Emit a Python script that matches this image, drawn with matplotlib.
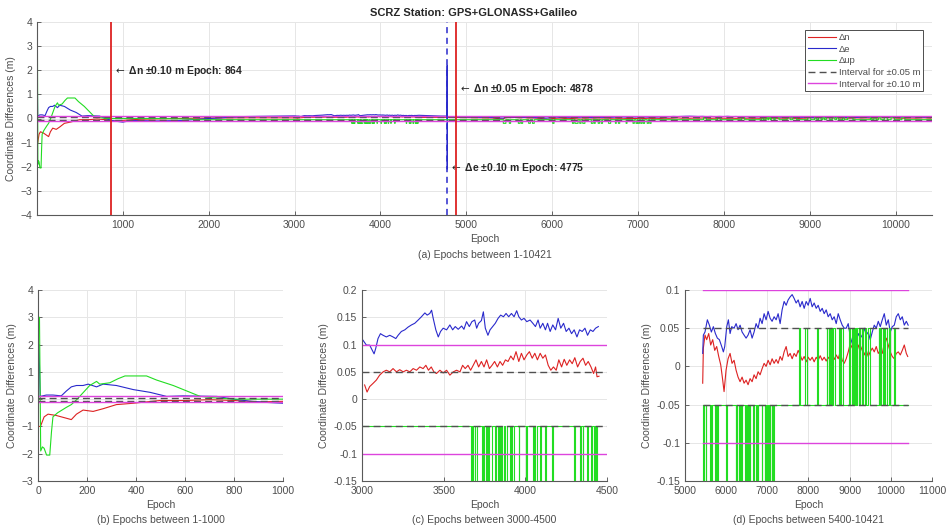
import numpy as np
import matplotlib
matplotlib.use('Agg')
import matplotlib.pyplot as plt

plt.rcParams['font.family'] = ['Liberation Sans', 'DejaVu Sans']

# ---- data ----
# panel (b) region, epochs 1-1000
n_ep_b = [5, 10, 25, 41, 75, 116, 136, 157, 184, 225, 266, 320, 389, 443, 498, 600, 700, 800, 900, 1000]
n_b = [-1.0, -1.0, -0.65, -0.55, -0.6, -0.7, -0.75, -0.55, -0.4, -0.45, -0.35, -0.2, -0.15, -0.1, -0.05,
       -0.05, -0.02, -0.05, -0.1, -0.08]
e_ep_b = [4, 9, 34, 61, 95, 116, 136, 157, 184, 205, 239, 266, 320, 389, 457, 525, 593, 730, 798, 870, 934, 1000]
e_b = [2.0, 0.1, 0.15, 0.15, 0.12, 0.3, 0.45, 0.5, 0.5, 0.55, 0.45, 0.55, 0.5, 0.35, 0.25, 0.1, 0.12, 0.1,
       0.0, -0.08, -0.12, -0.15]
up_ep_b = [3, 6, 11, 18, 25, 35, 48, 55, 61, 80, 116, 136, 160, 211, 239, 252, 293, 327, 355, 443, 484,
           552, 607, 662, 716, 798, 1000]
up_b = [3.0, 3.0, -1.9, -1.75, -1.8, -2.05, -2.05, -1.2, -0.65, -0.5, -0.3, -0.2, 0.0, 0.5, 0.65, 0.55,
        0.6, 0.75, 0.85, 0.85, 0.7, 0.5, 0.3, 0.1, 0.05, 0.0, 0.0]

# panel (c) region, epochs 3000-4500
n_ep_c = [3016, 3031, 3047, 3068, 3088, 3108, 3129, 3149, 3170, 3190,
          3211, 3231, 3252, 3272, 3293, 3313, 3334, 3354, 3374, 3391,
          3407, 3424, 3440, 3456, 3477, 3497, 3518, 3538, 3559, 3579,
          3600, 3616, 3632, 3649, 3665, 3681, 3698, 3714, 3731, 3747,
          3763, 3780, 3796, 3812, 3829, 3845, 3861, 3878, 3894, 3911,
          3927, 3943, 3960, 3976, 3992, 4009, 4025, 4042, 4058, 4074,
          4091, 4107, 4123, 4140, 4156, 4172, 4189, 4205, 4222, 4238,
          4254, 4271, 4287, 4303, 4320, 4336, 4353, 4369, 4385, 4402,
          4418, 4430, 4439, 4451]
n_c = [0.026, 0.013, 0.023, 0.029, 0.035, 0.044, 0.050, 0.053, 0.050, 0.056,
       0.050, 0.054, 0.050, 0.053, 0.050, 0.056, 0.053, 0.059, 0.056, 0.062,
       0.053, 0.059, 0.050, 0.047, 0.053, 0.048, 0.053, 0.044, 0.050, 0.053,
       0.050, 0.062, 0.056, 0.062, 0.053, 0.062, 0.072, 0.059, 0.069, 0.059,
       0.072, 0.056, 0.062, 0.069, 0.059, 0.069, 0.062, 0.072, 0.069, 0.079,
       0.072, 0.087, 0.069, 0.084, 0.072, 0.081, 0.087, 0.075, 0.084, 0.072,
       0.084, 0.075, 0.081, 0.062, 0.053, 0.059, 0.053, 0.072, 0.059, 0.073,
       0.062, 0.072, 0.065, 0.076, 0.059, 0.069, 0.075, 0.062, 0.069, 0.059,
       0.047, 0.059, 0.041, 0.042]
e_ep_c = [3006, 3027, 3047, 3057, 3074, 3084, 3098, 3113, 3129, 3149,
          3170, 3190, 3207, 3221, 3241, 3262, 3282, 3303, 3323, 3344,
          3364, 3385, 3399, 3415, 3426, 3436, 3452, 3467, 3481, 3497,
          3518, 3538, 3555, 3571, 3589, 3610, 3624, 3640, 3657, 3673,
          3690, 3702, 3714, 3731, 3743, 3755, 3771, 3784, 3800, 3816,
          3833, 3849, 3866, 3882, 3898, 3915, 3931, 3947, 3960, 3976,
          3992, 4009, 4029, 4046, 4062, 4078, 4091, 4107, 4123, 4136,
          4152, 4168, 4185, 4201, 4217, 4234, 4250, 4267, 4283, 4299,
          4316, 4332, 4348, 4365, 4381, 4398, 4414, 4430, 4447]
e_c = [0.108, 0.099, 0.099, 0.093, 0.083, 0.093, 0.111, 0.120, 0.117, 0.114,
       0.117, 0.114, 0.111, 0.117, 0.124, 0.127, 0.132, 0.136, 0.139, 0.145,
       0.151, 0.158, 0.154, 0.157, 0.163, 0.148, 0.127, 0.114, 0.124, 0.130,
       0.127, 0.136, 0.127, 0.133, 0.128, 0.134, 0.128, 0.142, 0.133, 0.142,
       0.145, 0.130, 0.139, 0.144, 0.160, 0.130, 0.117, 0.127, 0.133, 0.139,
       0.148, 0.154, 0.151, 0.157, 0.151, 0.157, 0.151, 0.162, 0.151, 0.145,
       0.148, 0.142, 0.145, 0.139, 0.133, 0.145, 0.130, 0.139, 0.127, 0.139,
       0.124, 0.136, 0.127, 0.148, 0.130, 0.139, 0.124, 0.130, 0.120, 0.127,
       0.114, 0.127, 0.124, 0.130, 0.117, 0.127, 0.124, 0.130, 0.133]

# panel (d) region, epochs 5400-10421
n_ep_d = [5430, 5446, 5486, 5527, 5576, 5624, 5673, 5722, 5770, 5819,
          5868, 5916, 5949, 5997, 6046, 6095, 6143, 6192, 6241, 6289,
          6338, 6387, 6435, 6484, 6532, 6581, 6630, 6678, 6727, 6776,
          6824, 6873, 6922, 6970, 7019, 7068, 7116, 7165, 7214, 7262,
          7311, 7359, 7408, 7457, 7505, 7554, 7603, 7651, 7700, 7749,
          7797, 7846, 7895, 7943, 7992, 8041, 8089, 8138, 8187, 8235,
          8284, 8333, 8381, 8430, 8478, 8527, 8576, 8624, 8673, 8722,
          8770, 8819, 8868, 8916, 8965, 9014, 9062, 9111, 9160, 9208,
          9257, 9306, 9354, 9403, 9451, 9500, 9549, 9597, 9646, 9695,
          9743, 9792, 9841, 9889, 9938, 9986, 10035, 10084, 10132, 10181,
          10230, 10278, 10327, 10376, 10410]
n_d = [-0.022, 0.024, 0.041, 0.035, 0.043, 0.028, 0.035, 0.021, 0.026, 0.013,
       0.002, -0.018, -0.033, -0.005, 0.010, 0.017, 0.004, 0.008, -0.005, -0.014,
       -0.020, -0.014, -0.022, -0.018, -0.024, -0.016, -0.020, -0.011, -0.016, -0.007,
       -0.011, -0.003, 0.004, 0.000, 0.008, 0.002, 0.010, 0.004, 0.009, 0.004,
       0.013, 0.008, 0.019, 0.026, 0.013, 0.017, 0.010, 0.017, 0.013, 0.021,
       0.015, 0.008, 0.013, 0.006, 0.012, 0.008, 0.012, 0.006, 0.012, 0.008,
       0.014, 0.008, 0.012, 0.007, 0.012, 0.008, 0.015, 0.009, 0.015, 0.010,
       0.019, 0.008, 0.004, 0.010, 0.019, 0.030, 0.024, 0.028, 0.021, 0.028,
       0.019, 0.026, 0.015, 0.021, 0.013, 0.019, 0.024, 0.019, 0.026, 0.017,
       0.021, 0.017, 0.030, 0.037, 0.028, 0.019, 0.013, 0.010, 0.017, 0.019,
       0.015, 0.021, 0.028, 0.017, 0.013]
e_ep_d = [5430, 5446, 5486, 5543, 5592, 5640, 5689, 5738, 5786, 5835,
          5892, 5932, 5965, 6014, 6054, 6095, 6135, 6192, 6241, 6289,
          6338, 6387, 6435, 6484, 6532, 6581, 6630, 6678, 6727, 6776,
          6824, 6873, 6922, 6970, 7019, 7068, 7116, 7165, 7214, 7262,
          7311, 7359, 7408, 7457, 7505, 7554, 7603, 7651, 7700, 7749,
          7797, 7846, 7895, 7943, 7992, 8041, 8089, 8138, 8187, 8235,
          8284, 8333, 8381, 8430, 8478, 8527, 8576, 8624, 8673, 8722,
          8770, 8819, 8868, 8916, 8965, 9014, 9062, 9111, 9160, 9208,
          9257, 9306, 9354, 9403, 9451, 9500, 9549, 9597, 9646, 9695,
          9743, 9792, 9841, 9889, 9938, 9986, 10035, 10084, 10132, 10181,
          10230, 10278, 10327, 10376, 10421]
e_d = [0.017, 0.041, 0.045, 0.061, 0.054, 0.045, 0.052, 0.043, 0.037, 0.035,
       0.026, 0.019, 0.026, 0.052, 0.061, 0.043, 0.052, 0.050, 0.056, 0.048,
       0.054, 0.045, 0.041, 0.037, 0.041, 0.048, 0.037, 0.045, 0.056, 0.050,
       0.063, 0.056, 0.069, 0.061, 0.072, 0.063, 0.059, 0.065, 0.061, 0.069,
       0.056, 0.074, 0.085, 0.080, 0.087, 0.091, 0.094, 0.089, 0.083, 0.087,
       0.078, 0.085, 0.076, 0.085, 0.080, 0.089, 0.078, 0.083, 0.076, 0.080,
       0.072, 0.076, 0.069, 0.074, 0.065, 0.069, 0.061, 0.065, 0.056, 0.069,
       0.061, 0.054, 0.050, 0.050, 0.056, 0.039, 0.030, 0.041, 0.035, 0.043,
       0.037, 0.041, 0.050, 0.041, 0.045, 0.035, 0.045, 0.054, 0.050, 0.059,
       0.052, 0.061, 0.069, 0.054, 0.061, 0.045, 0.052, 0.054, 0.065, 0.069,
       0.061, 0.065, 0.054, 0.059, 0.054]

# stretches only seen in panel (a)
n_ep_gap = [1200, 1600, 2000, 2500, 2800, 4550, 4700, 4900, 5100, 5300]
n_gap = [-0.03, 0.0, 0.02, 0.03, 0.025, 0.045, 0.05, 0.04, 0.03, 0.02]
e_ep_gap = [1100, 1400, 1700, 2000, 2400, 2800, 4550, 4700, 4774, 4776, 4777, 4779, 5000, 5300]
e_gap = [-0.08, -0.1, -0.08, 0.0, 0.08, 0.1, 0.12, 0.1, 0.1, 2.2, -2.1, 0.08, 0.06, 0.04]
up_ep_gap = [1400, 1800]
up_gap = [0.0, -0.02]

# Δup switches between levels after epoch 1850
up_switch_start = 1850
up_base, up_low, up_high = -0.05, -0.2, 0.05
up_low_spans = [(3665, 3672), (3678, 3690), (3694, 3702), (3735, 3740), (3748, 3760), (3765, 3772),
                (3778, 3795), (3815, 3822), (3830, 3838), (3845, 3850), (3856, 3870), (3874, 3888),
                (3905, 3912), (3918, 3930), (3960, 3964), (4005, 4012), (4045, 4050), (4060, 4070),
                (4090, 4095), (4120, 4124), (4165, 4170), (4300, 4305), (4335, 4342), (4350, 4355),
                (4378, 4385), (4405, 4410), (4420, 4428), (4432, 4438),
                (5430, 5460), (5500, 5515), (5605, 5625), (5640, 5655), (5725, 5745), (5770, 5790),
                (6005, 6020), (6235, 6250), (6265, 6300), (6320, 6335), (6355, 6380), (6455, 6475),
                (6490, 6500), (6535, 6550), (6570, 6585), (6655, 6680), (6735, 6745), (6770, 6785),
                (6860, 6870), (6940, 6955), (6975, 6990), (7000, 7015), (7030, 7045), (7060, 7075),
                (7105, 7120), (7135, 7150)]
up_high_spans = [(7760, 7795), (7925, 7955), (8205, 8240), (8440, 8460), (8490, 8510), (8520, 8540),
                 (8550, 8580), (8595, 8640), (8735, 8770), (8800, 8845), (8975, 9010), (9055, 9080),
                 (9100, 9130), (9150, 9170), (9190, 9230), (9260, 9290), (9310, 9335), (9380, 9400),
                 (9440, 9500), (9705, 9720), (9745, 9770), (9800, 9825), (9865, 9900), (9945, 9985),
                 (10070, 10105)]

last_epoch = 10421
event_epochs = [864, 4878]          # red vertical lines
event_e_epoch = 4775                # blue dashed vertical line
labels = ['\u0394n', '\u0394e', '\u0394up', 'Interval for \u00b10.05 m', 'Interval for \u00b10.10 m']

C_N, C_E, C_UP = '#dd2222', '#2a2acc', '#22dd22'
C_MAG, C_DASH = '#dd44dd', '#505050'


def up_steps(lo, hi):
    spans = [(a, b, up_low) for a, b in up_low_spans] + [(a, b, up_high) for a, b in up_high_spans]
    xs, ys = [lo], [up_base]
    for a, b, lev in sorted(spans):
        if a >= lo and b <= hi:
            xs += [a, a, b, b]
            ys += [up_base, lev, lev, up_base]
    xs.append(hi)
    ys.append(up_base)
    return xs, ys


def join(*parts):
    ep = np.concatenate([p[0] for p in parts]).astype(float)
    v = np.concatenate([p[1] for p in parts]).astype(float)
    order = np.argsort(ep, kind='stable')
    return ep[order], v[order]


def style(ax):
    for s in ['top', 'right']:
        ax.spines[s].set_visible(False)
    for s in ['left', 'bottom']:
        ax.spines[s].set_color('0.35')
        ax.spines[s].set_linewidth(0.8)
    ax.tick_params(direction='in', length=3, labelsize=7.5, colors='0.3', width=0.6)
    ax.grid(True, color='0.9', lw=0.7)
    ax.set_axisbelow(True)
    ax.set_ylabel('Coordinate Differences (m)', fontsize=7.5, color='0.3', labelpad=3)


def intervals(ax, lo, hi, with_label=False):
    for k, s in enumerate([1, -1]):
        ax.plot([lo, hi], [0.05 * s, 0.05 * s], color=C_DASH, lw=1.0, dashes=(5, 3),
                label=labels[3] if (with_label and k == 0) else None)
    for k, s in enumerate([1, -1]):
        ax.plot([lo, hi], [0.10 * s, 0.10 * s], color=C_MAG, lw=1.0,
                label=labels[4] if (with_label and k == 0) else None)


fig = plt.figure(figsize=(9.51, 5.30), dpi=100)
W, H = 951, 530


def px_axes(x0, y0, x1, y1):
    return fig.add_axes([x0 / W, 1 - y1 / H, (x1 - x0) / W, (y1 - y0) / H])


# ---- (a) full range ----
ax = px_axes(37, 22, 932, 215)
style(ax)
n_all = join((n_ep_b, n_b), (n_ep_gap, n_gap), (n_ep_c, n_c), (n_ep_d, n_d))
e_all = join((e_ep_b, e_b), (e_ep_gap, e_gap), (e_ep_c, e_c), (e_ep_d, e_d))
up_x, up_y = up_steps(up_switch_start, last_epoch)
up_all = (np.concatenate([up_ep_b, up_ep_gap, up_x]), np.concatenate([up_b, up_gap, up_y]))
ax.plot(*n_all, color=C_N, lw=0.8, label=labels[0])
ax.plot(*e_all, color=C_E, lw=0.8, label=labels[1])
ax.plot(*up_all, color=C_UP, lw=0.8, label=labels[2])
intervals(ax, 1, last_epoch, with_label=True)
for ev in event_epochs:
    ax.axvline(ev, color=C_N, lw=1.3, zorder=5)
ax.axvline(event_e_epoch, color=C_E, lw=1.1, dashes=(4, 3), zorder=5)
ax.set_xlim(1, last_epoch)
ax.set_ylim(-4, 4)
ax.set_xticks(np.arange(1000, 10001, 1000))
ax.set_yticks(np.arange(-4, 5, 1))
ax.set_xlabel('Epoch', fontsize=7.5, color='0.3', labelpad=3)
ax.text(0.5, -0.205, '(a) Epochs between 1-10421', transform=ax.transAxes, ha='center', va='center',
        fontsize=7.5, color='0.3')
bold = dict(fontsize=7.5, fontweight='bold', color='0.15', va='center', ha='left')
ax.text(890, 1.97, r'$\leftarrow$ ' + '\u0394n \u00b10.10 m Epoch: 864', **bold)
ax.text(4905, 1.22, r'$\leftarrow$ ' + '\u0394n \u00b10.05 m Epoch: 4878', **bold)
ax.text(4800, -2.05, r'$\leftarrow$ ' + '\u0394e \u00b10.10 m Epoch: 4775', **bold)
leg = ax.legend(loc='upper right', bbox_to_anchor=(0.99, 0.958), fontsize=6.8, frameon=True,
                fancybox=False, edgecolor='0.3', framealpha=1, handlelength=3.0, labelspacing=0.28,
                borderpad=0.3, handletextpad=0.3, borderaxespad=0)
leg.get_frame().set_linewidth(0.7)
for t in leg.get_texts():
    t.set_color('0.3')
fig.text(474 / W, 1 - 13 / H, 'SCRZ Station: GPS+GLONASS+Galileo', ha='center', va='center',
         fontsize=8, fontweight='bold', color='0.15')

# ---- (b) ----
ax = px_axes(38, 290, 283, 481)
style(ax)
ax.plot(n_ep_b, n_b, color=C_N, lw=0.8)
ax.plot(e_ep_b, e_b, color=C_E, lw=0.8)
ax.plot(up_ep_b, up_b, color=C_UP, lw=0.8)
intervals(ax, 0, 1000)
ax.set_xlim(0, 1000)
ax.set_ylim(-3, 4)
ax.set_xticks(np.arange(0, 1001, 200))
ax.set_yticks(np.arange(-3, 5, 1))
ax.set_xlabel('Epoch', fontsize=7.5, color='0.3', labelpad=3)
ax.text(0.5, -0.204, '(b) Epochs between 1-1000', transform=ax.transAxes, ha='center', va='center',
        fontsize=7.5, color='0.3')

# ---- (c) ----
ax = px_axes(362, 290, 607, 481)
style(ax)
ax.plot(n_ep_c, n_c, color=C_N, lw=0.8)
ax.plot(e_ep_c, e_c, color=C_E, lw=0.8)
ax.plot(*up_steps(3005, 4450), color=C_UP, lw=0.8)
intervals(ax, 3000, 4500)
ax.set_xlim(3000, 4500)
ax.set_ylim(-0.15, 0.2)
ax.set_xticks(np.arange(3000, 4501, 500))
ax.set_yticks(np.arange(-0.15, 0.201, 0.05))
ax.set_yticklabels(['-0.15', '-0.1', '-0.05', '0', '0.05', '0.1', '0.15', '0.2'])
ax.set_xlabel('Epoch', fontsize=7.5, color='0.3', labelpad=3)
ax.text(0.5, -0.204, '(c) Epochs between 3000-4500', transform=ax.transAxes, ha='center', va='center',
        fontsize=7.5, color='0.3')

# ---- (d) ----
ax = px_axes(685, 290, 932, 481)
style(ax)
ax.plot(n_ep_d, n_d, color=C_N, lw=0.8)
ax.plot(e_ep_d, e_d, color=C_E, lw=0.8)
ax.plot(*up_steps(5430, last_epoch), color=C_UP, lw=0.8)
intervals(ax, 5430, last_epoch)
ax.set_xlim(5000, 11000)
ax.set_ylim(-0.15, 0.1)
ax.set_xticks(np.arange(5000, 11001, 1000))
ax.set_yticks(np.arange(-0.15, 0.101, 0.05))
ax.set_yticklabels(['-0.15', '-0.1', '-0.05', '0', '0.05', '0.1'])
ax.set_xlabel('Epoch', fontsize=7.5, color='0.3', labelpad=3)
ax.text(0.5, -0.204, '(d) Epochs between 5400-10421', transform=ax.transAxes, ha='center', va='center',
        fontsize=7.5, color='0.3')

fig.savefig('out.png', dpi=100)
